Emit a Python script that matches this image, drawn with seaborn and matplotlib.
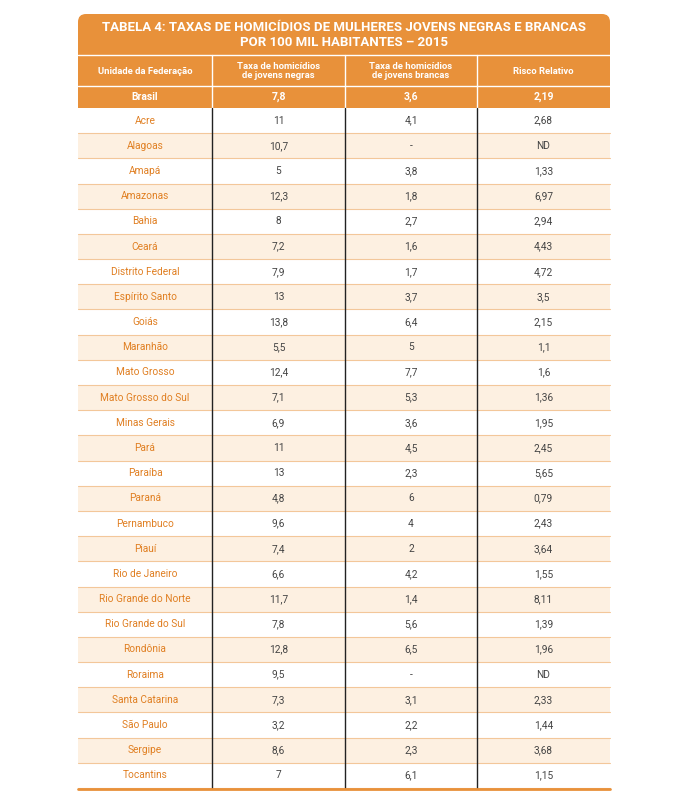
import matplotlib
matplotlib.use("Agg")
import matplotlib.pyplot as plt
import seaborn as sns
from matplotlib.patches import Rectangle, FancyBboxPatch

sns.set_style("white")
plt.rcParams['font.family'] = ['Roboto', 'DejaVu Sans']

title = "TABELA 4: TAXAS DE HOMICÍDIOS DE MULHERES JOVENS NEGRAS E BRANCAS\nPOR 100 MIL HABITANTES – 2015"
headers = ["Unidade da Federação", "Taxa de homicídios\nde jovens negras", "Taxa de homicídios\nde jovens brancas", "Risco Relativo"]
brasil = ["Brasil", "7,8", "3,6", "2,19"]
states = ["Acre", "Alagoas", "Amapá", "Amazonas", "Bahia", "Ceará", "Distrito Federal", "Espírito Santo",
          "Goiás", "Maranhão", "Mato Grosso", "Mato Grosso do Sul", "Minas Gerais", "Pará", "Paraíba",
          "Paraná", "Pernambuco", "Piauí", "Rio de Janeiro", "Rio Grande do Norte", "Rio Grande do Sul",
          "Rondônia", "Roraima", "Santa Catarina", "São Paulo", "Sergipe", "Tocantins"]
negras = ["11", "10,7", "5", "12,3", "8", "7,2", "7,9", "13", "13,8", "5,5", "12,4", "7,1", "6,9", "11",
          "13", "4,8", "9,6", "7,4", "6,6", "11,7", "7,8", "12,8", "9,5", "7,3", "3,2", "8,6", "7"]
brancas = ["4,1", "-", "3,8", "1,8", "2,7", "1,6", "1,7", "3,7", "6,4", "5", "7,7", "5,3", "3,6", "4,5",
           "2,3", "6", "4", "2", "4,2", "1,4", "5,6", "6,5", "-", "3,1", "2,2", "2,3", "6,1"]
risco = ["2,68", "ND", "1,33", "6,97", "2,94", "4,43", "4,72", "3,5", "2,15", "1,1", "1,6", "1,36", "1,95",
         "2,45", "5,65", "0,79", "2,43", "3,64", "1,55", "8,11", "1,39", "1,96", "ND", "2,33", "1,44",
         "3,68", "1,15"]

ORANGE = "#e8913a"
CREAM = "#fdf0e1"
TXT_OR = "#e07f22"
GRAY = "#444444"

fig = plt.figure(figsize=(6.8, 8), dpi=100)
ax = fig.add_axes([0, 0, 1, 1])
ax.set_xlim(0, 680)
ax.set_ylim(800, 0)
ax.axis("off")

L, R = 78, 610
cols = [L, 212, 345, 477, R]
centers = [(cols[i] + cols[i + 1]) / 2 for i in range(4)]

ax.add_patch(FancyBboxPatch((L, 14), R - L, 60, boxstyle="round,pad=0,rounding_size=8",
                            fc=ORANGE, ec="none"))
ax.add_patch(Rectangle((L, 40), R - L, 68, fc=ORANGE, ec="none"))
ax.text((L + R) / 2, 35, title, ha="center", va="center", color="white", fontsize=9.5,
        fontweight="bold", linespacing=1.15)
ax.plot([L, R], [55, 55], color="white", lw=1)
ax.plot([L, R], [86, 86], color="white", lw=1)
for x in cols[1:-1]:
    ax.plot([x, x], [55, 108], color="white", lw=1)
for c, h in zip(centers, headers):
    ax.text(c, 71, h, ha="center", va="center", color="white", fontsize=6.8, fontweight="bold", linespacing=1.0)
for c, v in zip(centers, brasil):
    ax.text(c, 97, v, ha="center", va="center", color="white", fontsize=7.5, fontweight="bold")

top = 108
rh = (788 - top) / len(states)
for i, (s, n, b, r) in enumerate(zip(states, negras, brancas, risco)):
    y0 = top + i * rh
    if i % 2 == 1:
        ax.add_patch(Rectangle((L, y0), R - L, rh, fc=CREAM, ec="none"))
    ax.plot([L, R], [y0 + rh, y0 + rh], color="#f3c79a", lw=0.8)
    yc = y0 + rh / 2
    ax.text(centers[0], yc, s, ha="center", va="center", color=TXT_OR, fontsize=7.3)
    for c, v in zip(centers[1:], [n, b, r]):
        ax.text(c, yc, v, ha="center", va="center", color=GRAY, fontsize=7.3)
for x in cols[1:-1]:
    ax.plot([x, x], [top, 788], color="#222222", lw=1)
ax.plot([L, R], [789, 789], color=ORANGE, lw=2)

fig.savefig("out.png", dpi=100, facecolor="white")
